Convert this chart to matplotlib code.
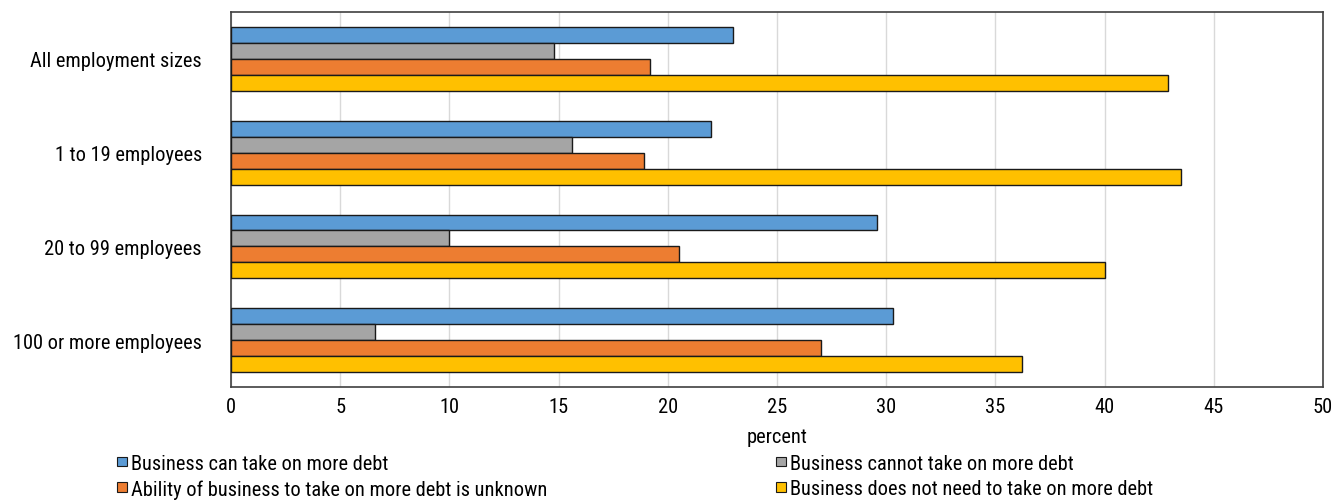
import matplotlib
matplotlib.use("Agg")
import matplotlib.pyplot as plt
from matplotlib import font_manager
import numpy as np
from matplotlib.patches import Patch

# prefer a narrow sans if one is installed
names = {f.name for f in font_manager.fontManager.ttflist}
narrow = [n for n in ['Liberation Sans Narrow', 'DejaVu Sans Condensed', 'Roboto Condensed'] if n in names]
plt.rcParams['font.family'] = narrow + ['Liberation Sans', 'DejaVu Sans']

categories = ["All employment sizes", "1 to 19 employees", "20 to 99 employees", "100 or more employees"]
series_names = [
    "Business can take on more debt",
    "Business cannot take on more debt",
    "Ability of business to take on more debt is unknown",
    "Business does not need to take on more debt",
]
can_take = [23.0, 22.0, 29.6, 30.3]
cannot_take = [14.8, 15.6, 10.0, 6.6]
unknown = [19.2, 18.9, 20.5, 27.0]
no_need = [42.9, 43.5, 40.0, 36.2]
colors = ["#5b9bd5", "#a5a5a5", "#ed7d31", "#ffc000"]

fs = 14.7 if narrow else 13

fig = plt.figure(figsize=(13.35, 5.02), dpi=100)
ax = fig.add_axes([0.173, 0.227, 0.818, 0.747])

y = np.arange(len(categories))
h = 0.17
all_series = [can_take, cannot_take, unknown, no_need]
for i, vals in enumerate(all_series):
    ax.barh(y + (i - 1.5) * h, vals, height=h, color=colors[i],
            edgecolor="#1a1a1a", linewidth=1.0, zorder=3)

ax.set_ylim(len(categories) - 0.5, -0.5)
ax.set_yticks(y)
ax.set_yticklabels(categories, fontsize=fs)
ax.set_xlim(0, 50)
ax.set_xticks(range(0, 51, 5))
ax.tick_params(axis='x', labelsize=fs, length=0, pad=7)
ax.tick_params(axis='y', length=0, pad=21)
ax.xaxis.grid(True, color="#d9d9d9", linewidth=1.0, zorder=0)
ax.set_axisbelow(True)
for s in ax.spines.values():
    s.set_color("#404040")
    s.set_linewidth(1.2)
ax.set_xlabel("percent", fontsize=fs, labelpad=8)

# legend: two columns placed separately
handles = [Patch(facecolor=c, edgecolor="#1a1a1a", linewidth=0.8) for c in colors]
leg_kw = dict(loc="upper left", ncol=1, frameon=False, fontsize=fs,
              handlelength=0.5, handleheight=0.35, handletextpad=0.2,
              labelspacing=0.3, borderpad=0, borderaxespad=0)
fig.legend([handles[0], handles[2]], [series_names[0], series_names[2]],
           bbox_to_anchor=(117 / 1335, 1 - 455 / 502), **leg_kw)
fig.legend([handles[1], handles[3]], [series_names[1], series_names[3]],
           bbox_to_anchor=(776 / 1335, 1 - 455 / 502), **leg_kw)

fig.savefig("out.png", dpi=100)
